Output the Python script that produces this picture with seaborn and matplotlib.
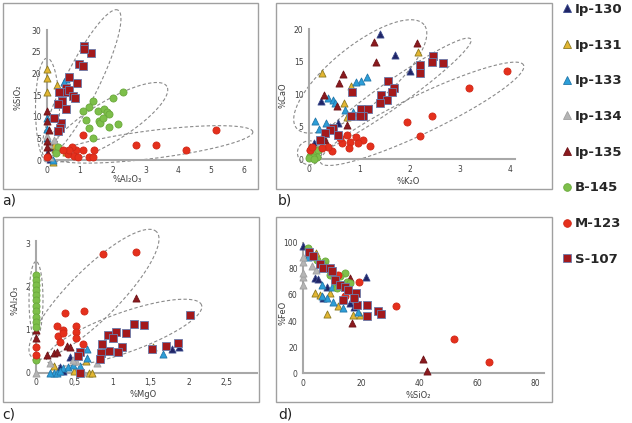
import numpy as np
import matplotlib
matplotlib.use('Agg')
import matplotlib.pyplot as plt
from matplotlib.lines import Line2D
from matplotlib.patches import Rectangle
import seaborn as sns

sns.set_style('white')
plt.rcParams['font.family'] = ['DejaVu Sans']

# ---------------- data ----------------
samples = ['Ip-130', 'Ip-131', 'Ip-133', 'Ip-134', 'Ip-135', 'B-145', 'M-123', 'S-107']

# a) %SiO2 vs %Al2O3
a_ip130 = ([0.0, 0.08, 0.15], [1.5, 0.3, 3.0])
a_ip131 = ([0.0, 0.0, 0.0, 0.3, 0.58, 0.65, 0.17, 0.25, 0.2], [21.0, 18.9, 15.8, 17.4, 1.8, 1.8, -0.5, 2.5, 3.5])
a_ip133 = ([0.0, 0.58, 0.53, 0.0, 0.07, 0.17, 0.0], [9.8, 18.7, 18.0, 7.2, 0.6, 0.0, 5.0])
a_ip134 = ([0.0, 0.05, 0.22, 0.1, 0.3], [5.5, 3.8, 4.6, 0.8, 2.8])
a_ip135 = ([0.0, 0.0, 0.0, 0.0, 0.02, 0.27, 0.05, 0.3], [11.4, 9.1, 4.5, 2.9, 1.3, 9.8, 7.0, 7.5])
a_b145 = ([1.39, 1.27, 1.09, 1.55, 1.75, 1.82, 1.9, 2.0, 2.31, 1.19, 1.29, 1.58, 1.6, 1.7, 1.9, 2.16, 1.39, 0.33, 0.28],
          [13.7, 12.3, 11.4, 11.4, 11.8, 11.0, 10.6, 14.2, 15.8, 9.2, 7.4, 9.1, 8.5, 9.7, 7.7, 8.2, 5.1, 2.9, 1.6])
a_m123 = ([5.16, 2.72, 3.31, 4.24, 1.11, 1.09, 1.44, 0.89, 0.75, 0.63, 0.83, 0.94, 1.29, 1.39, 0.68, 0.48, 0.0],
          [6.9, 3.5, 3.5, 2.3, 5.8, 2.3, 2.2, 2.2, 2.9, 1.5, 1.0, 0.6, 0.8, 0.6, 2.3, 2.2, 0.8])
a_s107 = ([1.12, 1.34, 1.14, 0.96, 1.11, 0.68, 0.92, 0.58, 0.54, 0.68, 0.78, 0.85, 0.36, 0.46, 0.58, 0.33, 0.43, 0.40, 0.33, 0.22],
          [26.4, 24.7, 25.6, 22.2, 21.8, 19.1, 17.7, 16.6, 15.6, 16.2, 14.8, 14.3, 15.8, 13.7, 11.8, 12.9, 8.5, 7.5, 6.8, 9.8])

# b) %CaO vs %K2O
b_ip130 = ([1.41, 1.71, 2.0, 0.23, 0.58, 0.42, 0.1], [19.3, 16.1, 13.6, 9.0, 5.6, 5.0, 2.5])
b_ip131 = ([0.25, 2.16, 0.84, 0.70, 0.32, 0.28, 0.75], [13.3, 16.5, 11.3, 8.6, 4.0, 3.2, 6.5])
b_ip133 = ([1.15, 1.03, 0.94, 0.38, 0.47, 0.52, 0.12, 0.34, 0.72, 0.88, 0.2, 0.02],
           [12.6, 12.1, 11.9, 9.5, 9.1, 8.6, 5.9, 5.6, 7.6, 7.2, 4.7, 0.7])
b_ip134 = ([0.02, 0.08, 0.15, 0.22, 0.3], [0.6, 1.2, 1.7, 2.5, 3.5])
b_ip135 = ([1.29, 2.14, 1.33, 0.68, 0.60, 0.30, 0.56, 0.75, 0.02, 0.32, 0.05],
           [18.1, 17.9, 14.9, 13.1, 11.8, 9.9, 8.2, 5.3, 1.9, 2.9, 1.2])
b_b145 = ([0.02, 0.05, 0.12, 0.18, 0.15, 0.08, 0.0, 0.1], [0.5, 0.9, 1.2, 1.5, 0.4, 0.4, 0.2, 0.1])
b_m123 = ([3.95, 3.18, 2.44, 1.96, 2.21, 0.75, 0.94, 1.08, 1.21, 0.82, 0.98, 0.65, 0.80, 0.45, 0.38, 0.25, 0.02, 0.05, 0.62],
          [13.6, 10.9, 6.7, 5.8, 3.6, 3.7, 3.5, 3.0, 2.1, 2.7, 2.5, 2.5, 1.8, 1.2, 1.9, 1.7, 1.4, 1.9, 3.2])
b_s107 = ([2.47, 2.44, 2.66, 2.21, 2.21, 1.58, 0.85, 1.69, 1.65, 1.43, 1.55, 1.41, 1.03, 1.18, 1.08, 1.01, 0.83, 0.48, 0.42, 0.58, 0.32, 0.22],
          [15.9, 15.0, 14.8, 14.5, 13.3, 12.1, 10.4, 10.9, 10.3, 9.9, 9.1, 8.6, 7.7, 7.7, 6.7, 6.6, 6.7, 4.8, 4.5, 3.7, 4.0, 3.0])

# c) %Al2O3 vs %MgO
c_ip130 = ([1.78, 1.87, 0.45, 0.31, 0.36], [0.55, 0.6, 0.37, 0.14, 0.05])
c_ip131 = ([1.53, 0.23, 0.69, 0.73, 0.66, 0.5], [0.60, 0.16, 0.0, 0.0, 0.26, 0.05])
c_ip133 = ([1.67, 0.67, 0.89, 0.67, 0.23, 0.36, 0.42, 0.49, 0.18, 0.27, 0.58, 0.32],
           [0.43, 0.55, 0.54, 0.33, 0.0, 0.1, 0.14, 0.18, 0.0, 0.0, 0.15, 0.05])
c_ip134 = ([0.0, 0.18, 0.80, 0.53, 0.48, 0.62], [0.0, 0.22, 0.23, 0.26, 0.3, 0.02])
c_ip135 = ([1.31, 0.0, 0.0, 0.23, 0.27, 0.40, 0.45, 0.14, 0.0], [1.74, 0.99, 0.8, 0.45, 0.49, 0.63, 0.6, 0.41, 0.38])
c_b145 = ([0.0] * 12, [2.27, 2.15, 2.03, 1.92, 1.80, 1.69, 1.55, 1.42, 1.30, 1.18, 1.07, 0.29])
c_m123 = ([0.88, 1.31, 0.63, 0.38, 0.27, 0.36, 0.29, 0.31, 0.53, 0.53, 0.53, 0.62, 0.35, 0.0, 0.0],
          [2.75, 2.79, 1.43, 1.39, 1.08, 1.0, 0.84, 0.72, 1.08, 0.95, 0.80, 0.67, 0.93, 0.6, 0.41])
c_s107 = ([2.02, 1.28, 1.41, 1.18, 1.05, 0.94, 1.01, 1.13, 1.08, 0.96, 0.86, 0.85, 0.84, 1.71, 1.86, 1.52, 0.58, 0.55, 0.58],
          [1.34, 1.12, 1.1, 0.91, 0.95, 0.87, 0.8, 0.59, 0.49, 0.51, 0.67, 0.45, 0.32, 0.63, 0.68, 0.54, 0.49, 0.38, 0.0])

# d) %FeO vs %SiO2
d_ip130 = ([0.0, 21.6, 4.0, 5.2, 6.9, 16.1, 17.5, 8.0, 2.5], [97.7, 73.5, 72.7, 72.0, 57.4, 53.6, 50.5, 66.0, 90.0])
d_ip131 = ([4.0, 8.3, 5.7, 9.2, 12.0, 17.2, 19.5, 2.0, 4.5], [61.7, 45.2, 60.0, 61.2, 51.5, 44.6, 45.0, 91.0, 92.0])
d_ip133 = ([8.0, 6.5, 10.3, 13.5, 18.9, 6.3, 1.7, 9.8], [57.4, 59.0, 54.8, 49.7, 47.2, 67.6, 89.3, 66.0])
d_ip134 = ([0.0, 0.0, 0.0, 0.0, 0.0, 2.9, 4.4], [67.6, 73.5, 77.0, 85.5, 89.3, 82.1, 79.1])
d_ip135 = ([41.3, 42.7, 16.6, 16.1, 16.1, 14.0], [10.7, 1.8, 38.8, 72.7, 63.8, 68.0])
d_b145 = ([1.7, 4.6, 7.5, 6.7, 9.2, 14.3, 14.9, 10.9, 11.7, 16.1, 12.5], [95.7, 86.7, 86.0, 82.9, 75.3, 76.5, 70.2, 70.2, 65.0, 68.9, 74.5])
d_m123 = ([51.9, 64.0, 31.9, 19.3, 11.2, 14.3, 12.0], [26.0, 8.9, 51.5, 70.2, 73.5, 59.2, 75.5])
d_s107 = ([2.0, 3.4, 5.8, 6.9, 9.2, 9.8, 10.9, 12.6, 14.3, 15.5, 18.1, 18.4, 22.0, 22.0, 25.8, 26.7, 17.3, 13.8],
          [92.6, 89.8, 84.0, 80.4, 80.4, 78.0, 71.4, 67.6, 66.3, 63.8, 61.2, 52.3, 52.3, 43.9, 47.7, 45.2, 58.0, 56.1])

# dashed group outlines: major-axis ends (data units) + half width (px)
a_groups = [((0.03, -0.7), (0.0, 23.5), 12), ((-0.06, 0.7), (2.16, 34.6), 17),
            ((0.09, 0.46), (3.65, 17.0), 20), ((0.18, 0.7), (6.27, 6.5), 14)]
b_groups = [((-0.25, 4.8), (2.29, 20.7), 30), ((0.05, 1.2), (3.22, 18.5), 13),
            ((0.23, -0.5), (4.27, 14.5), 19), ((-0.23, 1.0), (0.25, 1.0), 12)]
c_groups = [((0.0, 0.8), (0.0, 2.58), 7), ((-0.06, 0.37), (1.58, 3.27), 25),
            ((0.14, 0.29), (2.17, 1.57), 20)]

# ---------------- style ----------------
styles = {
    'Ip-130': dict(marker='^', color='#1F2466', edgecolor='#3A4A8C'),
    'Ip-131': dict(marker='^', color='#E3B632', edgecolor='#8C7A22'),
    'Ip-133': dict(marker='^', color='#2C9ED8', edgecolor='#2277AA'),
    'Ip-134': dict(marker='^', color='#B5B5B5', edgecolor='#A0A0A0'),
    'Ip-135': dict(marker='^', color='#8B1A1E', edgecolor='#6E1418'),
    'B-145': dict(marker='o', color='#7DBF4A', edgecolor='#6AA83C'),
    'M-123': dict(marker='o', color='#E5301C', edgecolor='#D02818'),
    'S-107': dict(marker='s', color='#A3191C', edgecolor='#6A7BAA'),
}

W, H = 632, 423
fig = plt.figure(figsize=(W / 100, H / 100), dpi=100)


def px_rect(l, t, r, b):
    return [l / W, 1 - b / H, (r - l) / W, (b - t) / H]


def make_panel(box, x0, y0, sx, sy, xb, yb, xt, yt, xfmt=None):
    l, t, r, b = box
    ax = fig.add_axes(px_rect(l, t, r, b))
    ax.set_xlim((l - x0) / sx, (r - x0) / sx)
    ax.set_ylim((y0 - b) / sy, (y0 - t) / sy)
    ax.patch.set_alpha(0)
    for s in ['top', 'right']:
        ax.spines[s].set_visible(False)
    ax.spines['left'].set_position(('data', 0))
    ax.spines['bottom'].set_position(('data', 0))
    ax.spines['left'].set_bounds(0, yb)
    ax.spines['bottom'].set_bounds(0, xb)
    for s in ['left', 'bottom']:
        ax.spines[s].set_color('#A8A8A8')
        ax.spines[s].set_linewidth(1.5)
    ax.set_xticks(xt)
    ax.set_yticks(yt)
    if xfmt:
        ax.set_xticklabels(xfmt)
    ax.tick_params(length=0, labelsize=5.5, colors='#404040', pad=4)
    ax.grid(False)
    return ax


def draw_points(ax, series):
    for name, (xs, ys) in zip(samples, series):
        st = styles[name]
        sns.scatterplot(x=xs, y=ys, ax=ax, marker=st['marker'], color=st['color'],
                        edgecolor=st['edgecolor'], linewidth=0.6, s=26, clip_on=False, zorder=3)


def draw_groups(ax, groups):
    t = np.linspace(0, 2 * np.pi, 240)
    for p1, p2, hw in groups:
        d1 = ax.transData.transform(p1)
        d2 = ax.transData.transform(p2)
        c = (d1 + d2) / 2
        u = (d2 - d1) / 2
        n = np.array([-u[1], u[0]]) / np.linalg.norm(u) * hw
        pts = c + np.outer(np.cos(t), u) + np.outer(np.sin(t), n)
        dd = ax.transData.inverted().transform(pts)
        ax.plot(dd[:, 0], dd[:, 1], ls=(0, (3, 2)), color='#8A8A8A', lw=0.8, clip_on=False, zorder=2)


# panel frames
for l, t, r, b in [(3, 3, 258, 189), (276, 3, 552, 189), (3, 217, 259, 402), (276, 217, 552, 402)]:
    fig.add_artist(Rectangle((l / W, 1 - b / H), (r - l) / W, (b - t) / H, transform=fig.transFigure,
                             fill=False, edgecolor='#A0A0A0', lw=1))

ax_a = make_panel((10, 5, 255, 180), 47, 160, 32.83, 4.333, 6.2, 30,
                  [0, 1, 2, 3, 4, 5, 6], [0, 5, 10, 15, 20, 25, 30])
ax_b = make_panel((283, 5, 548, 180), 309, 159.3, 50.25, 6.5, 4.1, 20,
                  [0, 1, 2, 3, 4], [0, 5, 10, 15, 20])
ax_c = make_panel((12, 222, 258, 392), 36, 372.7, 76.3, 43.1, 2.9, 3.05,
                  [0, 0.5, 1, 1.5, 2, 2.5], [0, 1, 2, 3], ['0', '0,5', '1', '1,5', '2', '2,5'])
ax_d = make_panel((283, 222, 548, 392), 303.3, 373.3, 2.906, 1.306, 83, 100,
                  [0, 20, 40, 60, 80], [0, 20, 40, 60, 80, 100])

draw_groups(ax_a, a_groups)
draw_groups(ax_b, b_groups)
draw_groups(ax_c, c_groups)

draw_points(ax_a, [a_ip130, a_ip131, a_ip133, a_ip134, a_ip135, a_b145, a_m123, a_s107])
draw_points(ax_b, [b_ip130, b_ip131, b_ip133, b_ip134, b_ip135, b_b145, b_m123, b_s107])
draw_points(ax_c, [c_ip130, c_ip131, c_ip133, c_ip134, c_ip135, c_b145, c_m123, c_s107])
draw_points(ax_d, [d_ip130, d_ip131, d_ip133, d_ip134, d_ip135, d_b145, d_m123, d_s107])

# axis titles
lab = dict(fontsize=6, color='#404040', ha='center', va='center')
fig.text(127 / W, 1 - 180 / H, '%Al₂O₃', **lab)
fig.text(18 / W, 1 - 97 / H, '%SiO₂', rotation=90, **lab)
fig.text(408 / W, 1 - 182 / H, '%K₂O', **lab)
fig.text(283 / W, 1 - 95 / H, '%CaO', rotation=90, **lab)
fig.text(143 / W, 1 - 394 / H, '%MgO', **lab)
fig.text(15 / W, 1 - 300 / H, '%Al₂O₃', rotation=90, **lab)
fig.text(418 / W, 1 - 395 / H, '%SiO₂', **lab)
fig.text(283 / W, 1 - 313 / H, '%FeO', rotation=90, **lab)

# panel letters
for txt, x, y in [('a)', 2, 200), ('b)', 278, 200), ('c)', 2, 414), ('d)', 278, 414)]:
    fig.text(x / W, 1 - y / H, txt, fontsize=10, color='#222222', va='center', ha='left')

# legend
handles = [Line2D([], [], ls='', marker=styles[n]['marker'], markersize=5.5,
                  markerfacecolor=styles[n]['color'], markeredgecolor=styles[n]['edgecolor'], markeredgewidth=0.6)
           for n in samples]
fig.legend(handles, samples, loc='upper left', bbox_to_anchor=(562 / W, 1 - 3 / H), frameon=False,
           prop=dict(size=9.5, weight='bold'), labelcolor='#262626', labelspacing=1.72,
           handlelength=0.7, handletextpad=0.3, borderaxespad=0, borderpad=0)

fig.savefig('out.png', dpi=100)
